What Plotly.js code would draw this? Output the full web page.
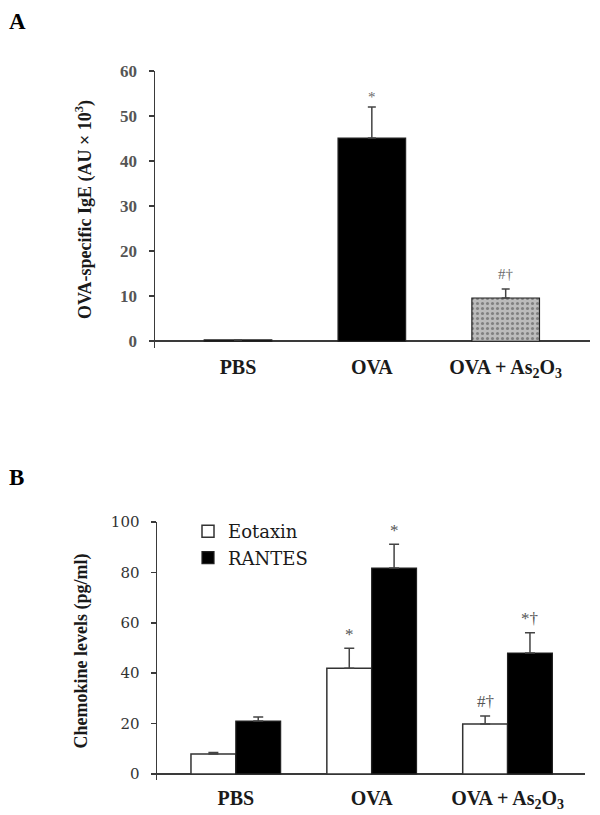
<!DOCTYPE html>
<html><head><meta charset="utf-8">
<script src="https://cdn.plot.ly/plotly-3.0.1.min.js"></script>
<style>html,body{margin:0;padding:0;background:#fff}</style>
</head><body><div id="chart" style="width:600px;height:815px"></div>
<script>
// ---- data ----
const categories = ['PBS', 'OVA', 'OVA + As<sub>2</sub>O<sub>3</sub>'];
const igeValues = [0.3, 45.1, 9.6];
const igeErrors = [0, 6.9, 2.0];
const igeMarks = ['', '*', '#†'];
const eotaxinValues = [7.9, 42.0, 19.8];
const eotaxinErrors = [0.6, 7.9, 3.2];
const eotaxinMarks = ['', '*', '#†'];
const rantesValues = [21.0, 81.7, 48.0];
const rantesErrors = [1.6, 9.5, 8.0];
const rantesMarks = ['', '*', '*†'];
const igeTicks = [0, 10, 20, 30, 40, 50, 60];
const chemTicks = [0, 20, 40, 60, 80, 100];

// ---- styles ----
const SERIF = 'Liberation Serif, Times New Roman, serif';
const WIDE_SERIF = 'DejaVu Serif, serif';
const AXC = '#3a3a3a';
const zeros = v => v.map(() => 0);

const traces = [
  {
    type: 'bar', x: categories, y: igeValues, xaxis: 'x', yaxis: 'y',
    width: 0.505, showlegend: false, name: 'IgE',
    marker: {
      color: ['#000000', '#000000', '#bcbcbc'],
      line: {color: '#222', width: 1.2},
      pattern: {shape: ['', '', '.'], fgcolor: '#ffffff', size: 5, solidity: 0.3, fillmode: 'overlay'}
    },
    error_y: {type: 'data', array: igeErrors, arrayminus: zeros(igeErrors), symmetric: false,
      color: '#444', thickness: 1.5, width: 4}
  },
  {
    type: 'bar', x: categories, y: eotaxinValues, xaxis: 'x2', yaxis: 'y2',
    width: 0.33, offset: -0.33, name: 'Eotaxin',
    marker: {color: '#ffffff', line: {color: '#333', width: 1.5}},
    error_y: {type: 'data', array: eotaxinErrors, arrayminus: zeros(eotaxinErrors), symmetric: false,
      color: '#444', thickness: 1.5, width: 5}
  },
  {
    type: 'bar', x: categories, y: rantesValues, xaxis: 'x2', yaxis: 'y2',
    width: 0.33, offset: 0, name: 'RANTES',
    marker: {color: '#000000', line: {color: '#222', width: 1.2}},
    error_y: {type: 'data', array: rantesErrors, arrayminus: zeros(rantesErrors), symmetric: false,
      color: '#444', thickness: 1.5, width: 5}
  }
];

const annotations = [
  {text: '<b>A</b>', xref: 'paper', yref: 'paper', x: 7/600, y: 1 - 7/815, xanchor: 'left', yanchor: 'top',
   showarrow: false, font: {family: SERIF, size: 23, color: '#000'}},
  {text: '<b>B</b>', xref: 'paper', yref: 'paper', x: 7/600, y: 1 - 463/815, xanchor: 'left', yanchor: 'top',
   showarrow: false, font: {family: SERIF, size: 23, color: '#000'}}
];
igeMarks.forEach((m, i) => {
  if (!m) return;
  annotations.push({text: m, xref: 'x', yref: 'y', x: i, y: igeValues[i] + igeErrors[i],
    yanchor: 'bottom', yshift: i === 2 ? 5 : 0, showarrow: false, font: {family: SERIF, size: 15, color: '#6a6a6a'}});
});
eotaxinMarks.forEach((m, i) => {
  if (!m) return;
  annotations.push({text: m, xref: 'x2', yref: 'y2', x: i - 0.165, y: eotaxinValues[i] + eotaxinErrors[i],
    yanchor: 'bottom', yshift: i === 2 ? 3 : 2, showarrow: false, font: {family: SERIF, size: 17, color: '#555'}});
});
rantesMarks.forEach((m, i) => {
  if (!m) return;
  annotations.push({text: m, xref: 'x2', yref: 'y2', x: i + 0.165, y: rantesValues[i] + rantesErrors[i],
    yanchor: 'bottom', yshift: i === 2 ? 3 : 2, showarrow: false, font: {family: SERIF, size: 17, color: '#555'}});
});

const layout = {
  width: 600, height: 815,
  margin: {l: 0, r: 0, t: 0, b: 0},
  paper_bgcolor: '#ffffff', plot_bgcolor: 'rgba(0,0,0,0)',
  showlegend: true,
  legend: {x: 188/600, y: 1 - 513/815, xanchor: 'left', yanchor: 'top',
    font: {family: WIDE_SERIF, size: 18, color: '#1a1a1a'}, bgcolor: 'rgba(0,0,0,0)', traceorder: 'normal'},
  xaxis: {domain: [155/600, 590/600], anchor: 'y', type: 'category', range: [-0.62, 2.63],
    showline: false, showgrid: false, zeroline: false, ticks: '', automargin: false,
    tickfont: {family: SERIF, size: 20, color: '#1a1a1a', weight: 'bold'}, ticklabelstandoff: 5},
  yaxis: {domain: [1 - 348/815, 1 - 71/815], anchor: 'x', range: [-1.5, 60],
    tickvals: igeTicks, ticktext: igeTicks.map(String),
    showline: true, linecolor: AXC, linewidth: 1.5, ticks: 'outside', ticklen: 5, tickcolor: AXC, tickwidth: 1.5,
    showgrid: false, zeroline: true, zerolinecolor: AXC, zerolinewidth: 1.5, automargin: false,
    tickfont: {family: SERIF, size: 17, color: '#555', weight: 'bold'}, ticklabelstandoff: 8,
    title: {text: 'OVA-specific IgE (AU × 10<sup>3</sup>)', standoff: 24,
      font: {family: SERIF, size: 18, color: '#1a1a1a', weight: 'bold'}}},
  xaxis2: {domain: [157/600, 585/600], anchor: 'y2', type: 'category', range: [-0.58, 2.57],
    showline: false, showgrid: false, zeroline: false, ticks: '', automargin: false,
    tickfont: {family: SERIF, size: 20, color: '#1a1a1a', weight: 'bold'}, ticklabelstandoff: 4},
  yaxis2: {domain: [1 - 780/815, 1 - 522/815], anchor: 'x2', range: [-2.4, 100],
    tickvals: chemTicks, ticktext: chemTicks.map(String),
    showline: true, linecolor: AXC, linewidth: 1.5, ticks: 'outside', ticklen: 5, tickcolor: AXC, tickwidth: 1.5,
    showgrid: false, zeroline: true, zerolinecolor: AXC, zerolinewidth: 1.5, automargin: false,
    tickfont: {family: WIDE_SERIF, size: 15, color: '#333'}, ticklabelstandoff: 8,
    title: {text: 'Chemokine levels (pg/ml)', standoff: 18,
      font: {family: SERIF, size: 18, color: '#1a1a1a', weight: 'bold'}}},
  annotations: annotations
};

Plotly.newPlot('chart', traces, layout, {displayModeBar: false, staticPlot: true});
</script></body></html>
